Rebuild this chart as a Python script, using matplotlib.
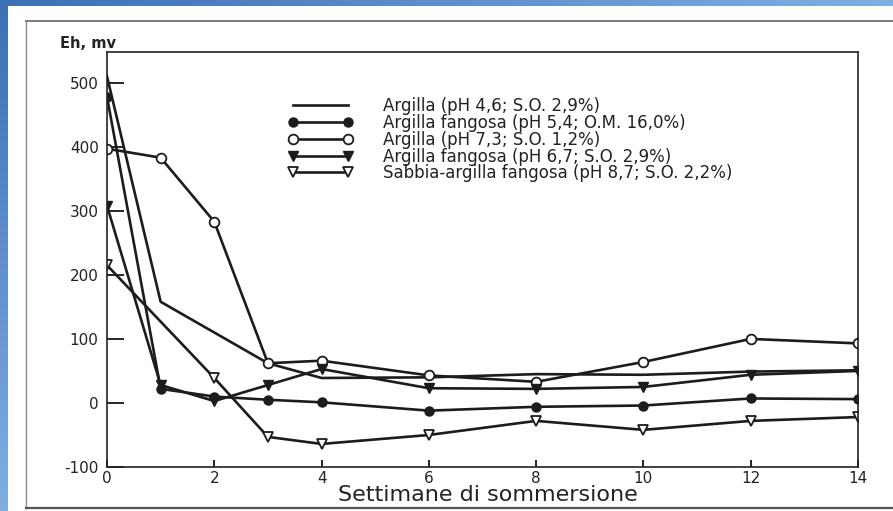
import numpy as np
import matplotlib
matplotlib.use('Agg')
import matplotlib.pyplot as plt

# dati (Eh in mV)
settimane = [0, 1, 2, 3, 4, 6, 8, 10, 12, 14]
settimane_st = [0, 2, 3, 4, 6, 8, 10, 12, 14]

argilla_46 = [510, 158, 110, 62, 39, 40, 45, 44, 49, 51]
fangosa_54 = [478, 22, 10, 5, 1, -12, -6, -4, 7, 6]
argilla_73 = [397, 383, 283, 62, 66, 43, 33, 64, 100, 93]
fangosa_67 = [308, 28, 3, 28, 53, 23, 22, 25, 44, 50]
sabbia_87 = [215, 39, -53, -64, -50, -28, -42, -28, -22]

etichette = [
    "Argilla (pH 4,6; S.O. 2,9%)",
    "Argilla fangosa (pH 5,4; O.M. 16,0%)",
    "Argilla (pH 7,3; S.O. 1,2%)",
    "Argilla fangosa (pH 6,7; S.O. 2,9%)",
    "Sabbia-argilla fangosa (pH 8,7; S.O. 2,2%)",
]
yticks = [-100, 0, 100, 200, 300, 400, 500]
xticks = [0, 2, 4, 6, 8, 10, 12, 14]

plt.rcParams['font.family'] = ['DejaVu Sans']
plt.rcParams['axes.unicode_minus'] = False
W, H = 893, 511
fig = plt.figure(figsize=(W / 100, H / 100), dpi=100, facecolor='white')

# sfondo: bordo blu e cornice della scansione
bg = fig.add_axes([0, 0, 1, 1], zorder=0)
bg.set_xlim(0, W)
bg.set_ylim(H, 0)
bg.axis('off')
grad_h = np.linspace(0, 1, 256).reshape(1, -1)
grad_v = np.linspace(0, 1, 256).reshape(-1, 1)
cmap = matplotlib.colors.LinearSegmentedColormap.from_list('blu', ['#3c6fb6', '#7eb0e2'])
bg.imshow(grad_h, extent=[0, W, 6.5, 0], cmap=cmap, aspect='auto')
bg.imshow(grad_v, extent=[0, 7.5, H, 0], cmap=cmap, aspect='auto')
bg.plot([26, W], [21, 21], color='#7a7a7a', lw=1.4)
bg.plot([26, 26], [21, 508], color='#8a8a8a', lw=1.0)
bg.plot([26, W], [508.5, 508.5], color='#555555', lw=1.6)

ax = fig.add_axes([107 / W, 1 - 467 / H, (858 - 107) / W, (467 - 52) / H], zorder=2)
ax.patch.set_alpha(0)
c = '#1c1c1c'
lw = 1.9
ax.plot(settimane, argilla_46, color=c, lw=lw, label=etichette[0])
ax.plot(settimane, fangosa_54, color=c, lw=lw, marker='o', ms=6.5,
        mfc=c, mec=c, label=etichette[1])
ax.plot(settimane, argilla_73, color=c, lw=lw, marker='o', ms=7,
        mfc='white', mec=c, mew=1.3, label=etichette[2])
ax.plot(settimane, fangosa_67, color=c, lw=lw, marker='v', ms=7,
        mfc=c, mec=c, label=etichette[3])
ax.plot(settimane_st, sabbia_87, color=c, lw=lw, marker='v', ms=7,
        mfc='white', mec=c, mew=1.3, label=etichette[4])

ax.set_xlim(0, 14)
ax.set_ylim(-100, 548)
ax.set_xticks(xticks)
ax.set_yticks(yticks)
ax.tick_params(axis='y', direction='in', length=12, width=1.2, pad=6,
               labelsize=11, labelcolor='#222222')
ax.tick_params(axis='x', direction='in', length=5, width=1.2, pad=3,
               labelsize=11, labelcolor='#222222')
for s in ax.spines.values():
    s.set_linewidth(1.2)
    s.set_color('#222222')

leg = ax.legend(loc='upper left', bbox_to_anchor=(288 / W, 1 - 97 / H),
                bbox_transform=fig.transFigure, frameon=False, fontsize=12,
                numpoints=2, handlelength=3.9, handletextpad=1.8,
                labelspacing=-0.07, borderpad=0, borderaxespad=0)
for t in leg.get_texts():
    t.set_color('#222222')

fig.text(60 / W, 1 - 43 / H, "Eh, mv", fontsize=10.5, fontweight='bold',
         ha='left', va='center', color='#222222')
fig.text(488 / W, 1 - 495 / H, "Settimane di sommersione", fontsize=16,
         ha='center', va='center', color='#222222')

fig.savefig('out.png', dpi=100, facecolor='white')
